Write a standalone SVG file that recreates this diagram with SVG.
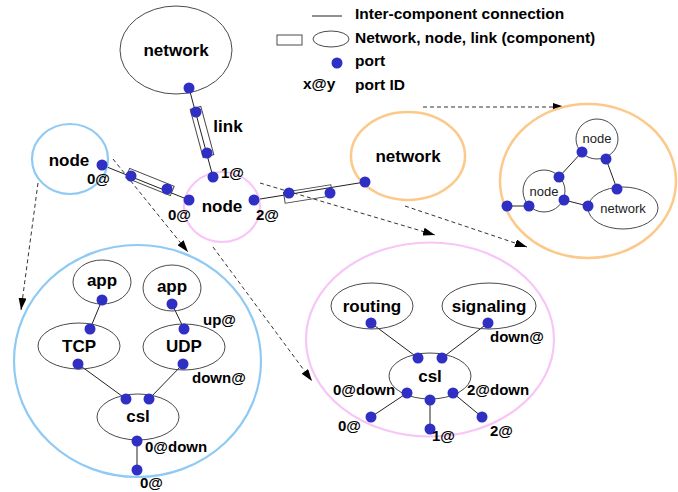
<svg xmlns="http://www.w3.org/2000/svg" width="678" height="492" viewBox="0 0 678 492">
<style>
.bg{fill:#ffffff}
.comp{fill:none;stroke:#4a4a4a;stroke-width:1}
.blue{fill:none;stroke:#8fcaf5;stroke-width:2.2}
.pink{fill:none;stroke:#f7c6f7;stroke-width:2.2}
.orange{fill:none;stroke:#fcc98a;stroke-width:2.5}
.port{fill:#2f2fc4}
.conn{stroke:#222;stroke-width:1;fill:none}
.dash{stroke:#333;stroke-width:1;fill:none;stroke-dasharray:4 3;marker-end:url(#arr)}
.t{font-family:"Liberation Sans",Arial,sans-serif;font-weight:bold;fill:#000}
.big{font-size:17px;text-anchor:middle}
.lab{font-size:15px}
.leg{font-size:15.5px}
.sm{font-family:"Liberation Sans",Arial,sans-serif;font-size:13px;fill:#222;text-anchor:middle}
</style>
<defs>
<marker id="arr" markerUnits="userSpaceOnUse" markerWidth="12" markerHeight="8" refX="12" refY="4" orient="auto">
<path d="M0,0 L12,4 L0,8 z" fill="#000"/>
</marker>
</defs>
<rect class="bg" x="0" y="0" width="678" height="492"/>

<g id="legend">
<line class="conn" x1="312" y1="16" x2="342" y2="16"/>
<rect class="comp" x="277" y="35" width="25" height="10"/>
<ellipse class="comp" cx="331" cy="39" rx="18" ry="8"/>
<circle class="port" cx="337" cy="63" r="5.5"/>
<text class="t leg" x="303" y="89">x@y</text>
<text class="t leg" x="355" y="19">Inter-component connection</text>
<text class="t leg" x="355" y="43">Network, node, link (component)</text>
<text class="t leg" x="355" y="66">port</text>
<text class="t leg" x="355" y="90">port ID</text>
</g>

<g id="connectors">
<line class="conn" x1="189" y1="88" x2="213" y2="177"/>
<line class="conn" x1="102" y1="165" x2="189" y2="200"/>
<line class="conn" x1="254" y1="200" x2="365" y2="182"/>
<line class="conn" x1="507" y1="206" x2="529" y2="206"/>
<line class="conn" x1="582" y1="152" x2="559" y2="177"/>
<line class="conn" x1="606" y1="159" x2="617" y2="189"/>
<line class="conn" x1="564" y1="200" x2="588" y2="206"/>
<line class="conn" x1="102" y1="300" x2="90" y2="329"/>
<line class="conn" x1="172" y1="304" x2="184" y2="329"/>
<line class="conn" x1="78" y1="364" x2="126" y2="399"/>
<line class="conn" x1="183" y1="364" x2="149" y2="399"/>
<line class="conn" x1="137" y1="441" x2="137" y2="470"/>
<line class="conn" x1="371" y1="323" x2="418" y2="358"/>
<line class="conn" x1="488" y1="323" x2="442" y2="358"/>
<line class="conn" x1="407" y1="393" x2="371" y2="417"/>
<line class="conn" x1="430" y1="400" x2="430" y2="429"/>
<line class="conn" x1="453" y1="393" x2="482" y2="417"/>
<line class="dash" x1="423" y1="107" x2="565" y2="107"/>
<line class="dash" x1="260" y1="183" x2="435" y2="235"/>
<line class="dash" x1="405" y1="206" x2="527" y2="247"/>
<line class="dash" x1="113" y1="159" x2="188" y2="252"/>
<line class="dash" x1="38" y1="183" x2="21" y2="310"/>
<line class="dash" x1="213" y1="247" x2="312" y2="381"/>
</g>

<g id="network-top">
<ellipse class="comp" cx="176" cy="50" rx="56" ry="44"/>
<text class="t big" x="176" y="56">network</text>
<circle class="port" cx="189" cy="88" r="5.5"/>
</g>

<g id="link-top">
<rect class="comp" x="-25" y="-5.5" width="50" height="11" transform="translate(202,132) rotate(74.9)"/>
<circle class="port" cx="196" cy="112" r="5.5"/>
<circle class="port" cx="207" cy="153" r="5.5"/>
<text class="t big" x="228" y="132">link</text>
</g>

<g id="node-left">
<ellipse class="blue" cx="70" cy="159" rx="38" ry="35"/>
<text class="t big" x="69" y="166">node</text>
<circle class="port" cx="102" cy="165" r="5.5"/>
<text class="t lab" x="87" y="184">0@</text>
</g>

<g id="link-left">
<rect class="comp" x="-24" y="-5" width="48" height="10" transform="translate(150,182) rotate(21.9)"/>
<circle class="port" cx="131" cy="176" r="5.5"/>
<circle class="port" cx="167" cy="189" r="5.5"/>
</g>

<g id="node-mid">
<ellipse class="pink" cx="222" cy="207" rx="38" ry="35"/>
<text class="t big" x="222" y="212">node</text>
<circle class="port" cx="213" cy="177" r="5.5"/>
<circle class="port" cx="189" cy="200" r="5.5"/>
<circle class="port" cx="254" cy="200" r="5.5"/>
<text class="t lab" x="221" y="178">1@</text>
<text class="t lab" x="168" y="220">0@</text>
<text class="t lab" x="256" y="220">2@</text>
</g>

<g id="link-right">
<rect class="comp" x="-24" y="-5.5" width="48" height="11" transform="translate(308,194) rotate(-9.2)"/>
<circle class="port" cx="289" cy="193" r="5.5"/>
<circle class="port" cx="330" cy="193" r="5.5"/>
</g>

<g id="network-right">
<ellipse class="orange" cx="408" cy="156" rx="57" ry="44"/>
<text class="t big" x="408" y="162">network</text>
<circle class="port" cx="365" cy="182" r="5.5"/>
</g>

<g id="network-expanded">
<ellipse class="orange" cx="588" cy="181" rx="88" ry="77"/>
<ellipse class="comp" cx="597" cy="139" rx="21" ry="20"/>
<text class="sm" x="597" y="143">node</text>
<ellipse class="comp" cx="544" cy="191" rx="21" ry="21"/>
<text class="sm" x="544" y="196">node</text>
<ellipse class="comp" cx="623" cy="208" rx="35" ry="21"/>
<text class="sm" x="623" y="213">network</text>
<circle class="port" cx="582" cy="152" r="5.5"/>
<circle class="port" cx="606" cy="159" r="5.5"/>
<circle class="port" cx="559" cy="177" r="5.5"/>
<circle class="port" cx="617" cy="189" r="5.5"/>
<circle class="port" cx="564" cy="200" r="5.5"/>
<circle class="port" cx="588" cy="206" r="5.5"/>
<circle class="port" cx="507" cy="206" r="5.5"/>
<circle class="port" cx="529" cy="206" r="5.5"/>
</g>

<g id="node-left-expanded">
<ellipse class="blue" cx="137.5" cy="361" rx="123.5" ry="116"/>
<ellipse class="comp" cx="102" cy="282" rx="29" ry="22"/>
<text class="t big" x="102" y="286">app</text>
<ellipse class="comp" cx="172" cy="288" rx="29" ry="23"/>
<text class="t big" x="172" y="292">app</text>
<ellipse class="comp" cx="79" cy="346" rx="41" ry="23"/>
<text class="t big" x="79" y="352">TCP</text>
<ellipse class="comp" cx="184" cy="347" rx="41" ry="23"/>
<text class="t big" x="184" y="352">UDP</text>
<ellipse class="comp" cx="138" cy="417" rx="41" ry="23"/>
<text class="t big" x="138" y="422">csl</text>
<circle class="port" cx="102" cy="300" r="5.5"/>
<circle class="port" cx="90" cy="329" r="5.5"/>
<circle class="port" cx="78" cy="364" r="5.5"/>
<circle class="port" cx="172" cy="304" r="5.5"/>
<circle class="port" cx="184" cy="329" r="5.5"/>
<circle class="port" cx="183" cy="364" r="5.5"/>
<circle class="port" cx="126" cy="399" r="5.5"/>
<circle class="port" cx="149" cy="399" r="5.5"/>
<circle class="port" cx="137" cy="441" r="5.5"/>
<circle class="port" cx="137" cy="470" r="5.5"/>
<text class="t lab" x="203" y="325">up@</text>
<text class="t lab" x="192" y="383">down@</text>
<text class="t lab" x="145" y="452">0@down</text>
<text class="t lab" x="140" y="488">0@</text>
</g>

<g id="node-mid-expanded">
<ellipse class="pink" cx="430" cy="339.5" rx="124" ry="97"/>
<ellipse class="comp" cx="372" cy="306" rx="41" ry="23"/>
<text class="t big" x="372" y="312">routing</text>
<ellipse class="comp" cx="489" cy="306" rx="47" ry="23"/>
<text class="t big" x="489" y="312">signaling</text>
<ellipse class="comp" cx="430" cy="376" rx="41" ry="23"/>
<text class="t big" x="430" y="382">csl</text>
<circle class="port" cx="371" cy="323" r="5.5"/>
<circle class="port" cx="488" cy="323" r="5.5"/>
<circle class="port" cx="418" cy="358" r="5.5"/>
<circle class="port" cx="442" cy="358" r="5.5"/>
<circle class="port" cx="407" cy="393" r="5.5"/>
<circle class="port" cx="430" cy="400" r="5.5"/>
<circle class="port" cx="453" cy="393" r="5.5"/>
<circle class="port" cx="371" cy="417" r="5.5"/>
<circle class="port" cx="430" cy="429" r="5.5"/>
<circle class="port" cx="482" cy="417" r="5.5"/>
<text class="t lab" x="490" y="342">down@</text>
<text class="t lab" x="333" y="395">0@down</text>
<text class="t lab" x="467" y="395">2@down</text>
<text class="t lab" x="338" y="431">0@</text>
<text class="t lab" x="432" y="441">1@</text>
<text class="t lab" x="490" y="436">2@</text>
</g>
</svg>
